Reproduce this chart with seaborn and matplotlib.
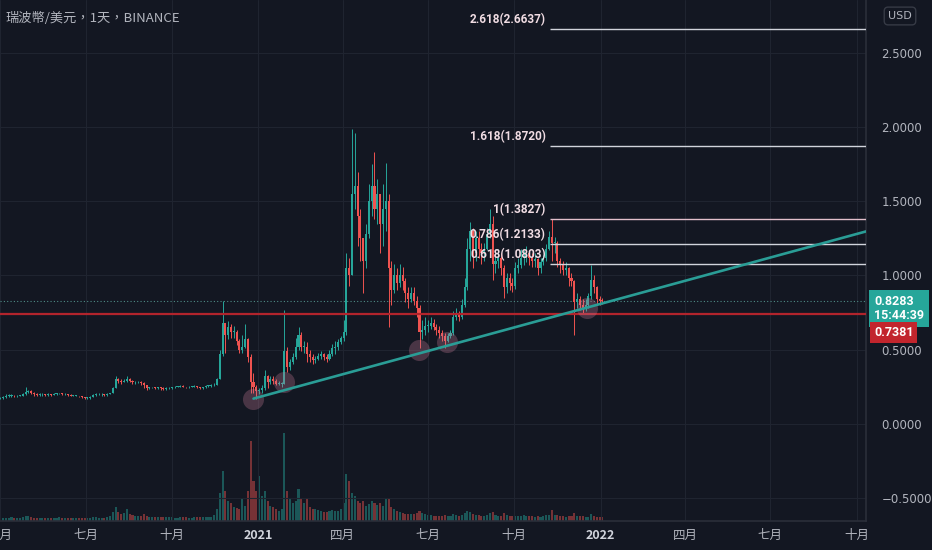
import numpy as np
import pandas as pd
import seaborn as sns
import matplotlib.pyplot as plt

# XRP/USD (Binance), 3-day candles, Apr 2020 -> Jan 2022
start = "2020-04-01"
first_open = 0.17
close = [
    0.175, 0.18, 0.19, 0.19, 0.19, 0.185, 0.19, 0.19, 0.20, 0.215,          # 2020-04
    0.22, 0.21, 0.20, 0.195, 0.20, 0.20, 0.195, 0.20, 0.195, 0.20, 0.205,   # 05
    0.205, 0.20, 0.20, 0.195, 0.19, 0.19, 0.19, 0.185, 0.18, 0.175,         # 06
    0.175, 0.18, 0.195, 0.20, 0.20, 0.20, 0.195, 0.20, 0.205, 0.24,         # 07
    0.30, 0.29, 0.285, 0.29, 0.30, 0.29, 0.28, 0.28, 0.285, 0.275,          # 08
    0.26, 0.24, 0.245, 0.245, 0.24, 0.245, 0.24, 0.235, 0.24, 0.24,         # 09
    0.245, 0.25, 0.25, 0.255, 0.25, 0.245, 0.25, 0.25, 0.255, 0.245, 0.24,  # 10
    0.245, 0.255, 0.255, 0.26, 0.265, 0.30, 0.47, 0.68, 0.60, 0.65,         # 11
    0.62, 0.62, 0.56, 0.50, 0.52, 0.57, 0.45, 0.28, 0.25, 0.22,             # 12
    0.23, 0.24, 0.32, 0.28, 0.30, 0.29, 0.27, 0.27, 0.27, 0.49,             # 2021-01
    0.38, 0.42, 0.45, 0.52, 0.60, 0.52, 0.52, 0.47, 0.45, 0.43,             # 02
    0.44, 0.46, 0.47, 0.45, 0.44, 0.47, 0.51, 0.52, 0.55, 0.58,             # 03
    0.62, 1.05, 1.00, 1.55, 1.60, 1.40, 1.25, 1.10, 1.28, 1.50,             # 04
    1.60, 1.45, 1.55, 1.35, 1.45, 1.50, 1.05, 0.90, 1.00, 0.95,             # 05
    1.00, 0.96, 0.88, 0.84, 0.88, 0.83, 0.78, 0.62, 0.63, 0.66,             # 06
    0.66, 0.68, 0.65, 0.63, 0.61, 0.59, 0.56, 0.59, 0.61, 0.72, 0.75,       # 07
    0.72, 0.80, 0.92, 1.18, 1.30, 1.15, 1.25, 1.18, 1.15, 1.18,             # 08
    1.28, 1.35, 1.08, 1.10, 1.12, 1.05, 0.92, 0.98, 0.95, 0.93,             # 09
    1.05, 1.07, 1.12, 1.12, 1.15, 1.12, 1.10, 1.11, 1.05, 1.09,             # 10
    1.12, 1.18, 1.26, 1.22, 1.22, 1.10, 1.08, 1.04, 1.05, 0.98,             # 11
    0.96, 0.82, 0.84, 0.80, 0.78, 0.80, 0.86, 0.97, 0.92, 0.84, 0.83,       # 12
    0.8283,                                                                 # 2022-01
]
high = [
    0.18, 0.185, 0.20, 0.20, 0.20, 0.195, 0.195, 0.195, 0.205, 0.245,
    0.23, 0.225, 0.215, 0.205, 0.205, 0.205, 0.20, 0.205, 0.20, 0.205, 0.21,
    0.21, 0.21, 0.205, 0.20, 0.20, 0.195, 0.195, 0.19, 0.185, 0.18,
    0.18, 0.185, 0.20, 0.205, 0.205, 0.205, 0.20, 0.205, 0.21, 0.25,
    0.32, 0.31, 0.30, 0.30, 0.325, 0.31, 0.295, 0.29, 0.29, 0.29,
    0.28, 0.265, 0.25, 0.25, 0.25, 0.25, 0.245, 0.245, 0.245, 0.245,
    0.25, 0.255, 0.255, 0.26, 0.26, 0.25, 0.255, 0.255, 0.26, 0.255, 0.245,
    0.25, 0.26, 0.265, 0.27, 0.275, 0.31, 0.50, 0.83, 0.68, 0.69,
    0.67, 0.66, 0.63, 0.57, 0.60, 0.67, 0.58, 0.47, 0.34, 0.26,
    0.24, 0.26, 0.36, 0.33, 0.32, 0.32, 0.30, 0.29, 0.28, 0.77,
    0.52, 0.44, 0.48, 0.58, 0.65, 0.62, 0.56, 0.55, 0.50, 0.47,
    0.46, 0.48, 0.49, 0.48, 0.47, 0.50, 0.54, 0.56, 0.57, 0.59,
    0.70, 1.15, 1.12, 1.99, 1.96, 1.70, 1.45, 1.25, 1.35, 1.62,
    1.75, 1.83, 1.65, 1.55, 1.62, 1.76, 1.55, 1.10, 1.08, 1.05,
    1.08, 1.06, 0.98, 0.92, 0.92, 0.92, 0.86, 0.80, 0.70, 0.72,
    0.70, 0.72, 0.71, 0.67, 0.66, 0.63, 0.61, 0.61, 0.63, 0.76, 0.78,
    0.76, 0.84, 0.98, 1.25, 1.36, 1.32, 1.30, 1.30, 1.22, 1.22,
    1.32, 1.45, 1.40, 1.18, 1.18, 1.15, 1.07, 1.02, 1.02, 0.98,
    1.09, 1.12, 1.18, 1.17, 1.20, 1.17, 1.15, 1.15, 1.12, 1.12,
    1.14, 1.21, 1.30, 1.38, 1.26, 1.23, 1.12, 1.10, 1.09, 1.06,
    1.02, 0.97, 0.88, 0.86, 0.84, 0.84, 0.88, 1.07, 1.00, 0.93, 0.86,
    0.85,
]
low = [
    0.17, 0.17, 0.175, 0.18, 0.18, 0.18, 0.18, 0.185, 0.19, 0.195,
    0.21, 0.20, 0.19, 0.185, 0.19, 0.19, 0.19, 0.19, 0.19, 0.195, 0.195,
    0.20, 0.195, 0.195, 0.19, 0.185, 0.185, 0.185, 0.18, 0.175, 0.17,
    0.17, 0.17, 0.18, 0.19, 0.195, 0.19, 0.19, 0.19, 0.20, 0.205,
    0.24, 0.275, 0.27, 0.28, 0.285, 0.28, 0.27, 0.27, 0.275, 0.265,
    0.24, 0.23, 0.235, 0.24, 0.235, 0.235, 0.23, 0.225, 0.23, 0.235,
    0.235, 0.24, 0.245, 0.245, 0.245, 0.24, 0.24, 0.245, 0.245, 0.24, 0.235,
    0.235, 0.24, 0.245, 0.25, 0.255, 0.26, 0.30, 0.46, 0.48, 0.57,
    0.58, 0.58, 0.53, 0.48, 0.48, 0.51, 0.42, 0.21, 0.21, 0.17,
    0.20, 0.21, 0.23, 0.24, 0.27, 0.27, 0.26, 0.26, 0.25, 0.27,
    0.35, 0.36, 0.40, 0.44, 0.50, 0.49, 0.48, 0.42, 0.42, 0.40,
    0.41, 0.43, 0.44, 0.43, 0.42, 0.43, 0.46, 0.47, 0.50, 0.54,
    0.56, 0.60, 0.93, 1.00, 1.45, 1.20, 1.10, 0.88, 1.05, 1.25,
    1.40, 1.38, 1.35, 1.15, 1.20, 1.30, 0.65, 0.80, 0.88, 0.90,
    0.92, 0.90, 0.82, 0.78, 0.82, 0.80, 0.72, 0.51, 0.57, 0.60,
    0.62, 0.64, 0.63, 0.60, 0.58, 0.56, 0.51, 0.55, 0.58, 0.60, 0.70,
    0.69, 0.71, 0.79, 0.90, 1.10, 1.05, 1.10, 1.12, 1.08, 1.10,
    1.17, 1.25, 0.97, 1.02, 1.05, 1.00, 0.85, 0.88, 0.90, 0.89,
    0.91, 1.02, 1.05, 1.07, 1.09, 1.07, 1.06, 1.06, 1.00, 1.02,
    1.07, 1.10, 1.17, 1.10, 1.15, 1.06, 1.02, 1.00, 1.00, 0.93,
    0.93, 0.60, 0.78, 0.77, 0.74, 0.76, 0.78, 0.84, 0.88, 0.81, 0.80,
    0.81,
]
volume = [
    3, 3, 3, 3, 4, 3, 3, 3, 4, 5,
    5, 4, 3, 3, 3, 3, 3, 3, 3, 3, 3,
    4, 3, 3, 3, 3, 3, 3, 3, 3, 3,
    3, 3, 4, 4, 3, 3, 3, 4, 5, 9,
    14, 9, 7, 8, 12, 7, 6, 5, 5, 5,
    7, 5, 4, 4, 4, 4, 4, 4, 4, 4,
    4, 3, 3, 4, 4, 4, 3, 3, 4, 4, 4,
    4, 4, 4, 4, 6, 12, 28, 50, 30, 20,
    18, 14, 13, 12, 22, 15, 30, 80, 40, 30,
    45, 25, 30, 20, 15, 14, 12, 10, 12, 88,
    30, 22, 18, 20, 32, 22, 18, 22, 14, 12,
    12, 11, 10, 9, 9, 10, 11, 10, 10, 12,
    18, 47, 40, 28, 25, 20, 18, 20, 15, 17,
    20, 18, 16, 18, 15, 23, 22, 14, 12, 10,
    9, 8, 7, 7, 7, 7, 8, 10, 8, 7,
    6, 6, 5, 5, 5, 5, 6, 5, 5, 7, 6,
    5, 6, 8, 10, 9, 7, 6, 6, 5, 5,
    6, 8, 9, 6, 5, 5, 8, 6, 5, 5,
    5, 5, 5, 6, 5, 5, 5, 4, 5, 4,
    5, 6, 6, 11, 6, 6, 5, 5, 4, 5,
    5, 8, 5, 5, 5, 4, 4, 7, 5, 4, 4,
    4,
]

# drawings
fib_ratio = ["2.618", "1.618", "1", "0.786", "0.618"]
fib_price = [2.6637, 1.8720, 1.3827, 1.2133, 1.0803]
fib_start = "2021-11-08"
trend_dates = ["2020-12-27", "2022-10-11"]
trend_price = [0.17, 1.297]
touch_dates = ["2020-12-27", "2021-01-28", "2021-06-21", "2021-07-21", "2021-12-18"]
touch_price = [0.17, 0.28, 0.50, 0.55, 0.78]
support = 0.7381
last_price = 0.8283
countdown = "15:44:39"
quarter_names = {1: None, 4: "四月", 7: "七月", 10: "十月"}

BG = "#131722"
UP, DOWN = "#26a69a", "#ef5350"
TXT = "#b2b5be"

df = pd.DataFrame({"close": close, "high": high, "low": low, "volume": volume})
df["date"] = pd.date_range(start, periods=len(df), freq="3D")
df["open"] = [first_open] + close[:-1]
df["color"] = np.where(df["close"] >= df["open"], UP, DOWN)

sns.set_theme(style="dark", rc={"axes.facecolor": BG, "figure.facecolor": BG,
                                "grid.color": "#1f2430", "axes.edgecolor": "#2a2e39"})
plt.rcParams["font.family"] = ["Noto Sans CJK TC", "DejaVu Sans"]

fig = plt.figure(figsize=(9.32, 5.5), dpi=100)
rect = [0, 29 / 550, 866 / 932, 521 / 550]
axv = fig.add_axes(rect)
ax = fig.add_axes(rect, sharex=axv)
ax.patch.set_alpha(0)

# volume
axv.bar(df["date"], df["volume"], width=2.2, color=df["color"], alpha=0.45, linewidth=0)
axv.set_ylim(0, max(volume) * 521 / 88)
axv.set_yticks([])
axv.tick_params(axis="x", labelbottom=False, length=0)
for s in axv.spines.values():
    s.set_visible(False)

# candles
body_lo = df[["open", "close"]].min(axis=1)
body_h = (df["close"] - df["open"]).abs().clip(lower=0.004)
ax.vlines(df["date"], df["low"], df["high"], colors=df["color"], lw=0.7, zorder=3)
ax.bar(df["date"], body_h, bottom=body_lo, width=2.2, color=df["color"], linewidth=0, zorder=3)

x_left = pd.Timestamp("2020-03-31 18:00")
x_right = pd.Timestamp("2022-10-11")
ax.set_xlim(x_left, x_right)
ax.set_ylim(-0.655, 2.857)

# horizontal levels
ax.axhline(support, color="#b2242c", lw=1.6, zorder=4)
ax.axhline(last_price, color="#4f8c86", lw=0.8, ls=(0, (1, 2)), zorder=2)

# trend line and touch points
sns.lineplot(x=pd.to_datetime(trend_dates), y=trend_price, ax=ax, color="#2a9d96", lw=1.9, zorder=5)
sns.scatterplot(x=pd.to_datetime(touch_dates), y=touch_price, ax=ax, s=230, color="#c87c98",
                alpha=0.3, linewidth=0, zorder=4)

# fibonacci extension
fs = pd.Timestamp(fib_start)
for r, p in zip(fib_ratio, fib_price):
    col = "#e2bfcb" if r == "1" else "#d1d4dc"
    ax.hlines(p, fs, x_right, colors=col, lw=1, zorder=4)
    ax.annotate(f"{r}({p:.4f})", xy=(fs, p), xytext=(-3, 2), textcoords="offset points",
                ha="right", va="bottom", color="#f0dce3", fontsize=8.5, fontweight="bold",
                family=["Roboto", "DejaVu Sans"], zorder=6)

# axes, ticks
ax.grid(True, color="#1f2430", lw=0.8)
ax.yaxis.tick_right()
ax.set_yticks(np.arange(-0.5, 2.51, 0.5))
ax.set_yticklabels([f"{v:.4f}".replace("-", "\u2212") for v in np.arange(-0.5, 2.51, 0.5)],
                   family=["DejaVu Sans"])
ax.tick_params(axis="y", length=0, pad=11, labelsize=8.5, labelcolor=TXT)

qticks = pd.date_range("2020-04-01", "2022-10-01", freq="QS")
ax.set_xticks(qticks)
ax.set_xticklabels([quarter_names[d.month] or str(d.year) for d in qticks])
ax.tick_params(axis="x", length=0, pad=6, labelsize=9, labelcolor=TXT)
for lbl, d in zip(ax.get_xticklabels(), qticks):
    if d.month == 1:
        lbl.set_fontweight("bold")
        lbl.set_color("#d1d4dc")
for name, s in ax.spines.items():
    s.set_visible(name in ("right", "bottom"))
    s.set_color("#2a2e39")
ax.set_xlabel("")
ax.set_ylabel("")

# price labels on the scale
yt = ax.get_yaxis_transform()
ax.annotate(f"{last_price:.4f}\n{countdown}", xy=(1, last_price), xycoords=yt,
            xytext=(8, 6), textcoords="offset pixels", ha="left", va="top", color="white",
            fontsize=9, fontweight="bold", family=["Roboto", "DejaVu Sans"], linespacing=1.1,
            annotation_clip=False,
            bbox=dict(boxstyle="square,pad=0.4", fc=UP, ec="none"))
ax.annotate(f"{support:.4f}", xy=(1, support), xycoords=yt,
            xytext=(8, -18), textcoords="offset pixels", ha="left", va="center", color="white",
            fontsize=9, fontweight="bold", family=["Roboto", "DejaVu Sans"], annotation_clip=False,
            bbox=dict(boxstyle="square,pad=0.3", fc="#c2252d", ec="none"))

# header
fig.text(5 / 932, 1 - 18 / 550, "瑞波幣/美元，1天，BINANCE", color=TXT, fontsize=9.5, va="center")
fig.text(900 / 932, 1 - 16 / 550, "USD", color=TXT, fontsize=8, ha="center", va="center",
         family=["DejaVu Sans"],
         bbox=dict(boxstyle="round,pad=0.35", fc=BG, ec="#363a45"))

fig.savefig("out.png", dpi=100, facecolor=BG)
